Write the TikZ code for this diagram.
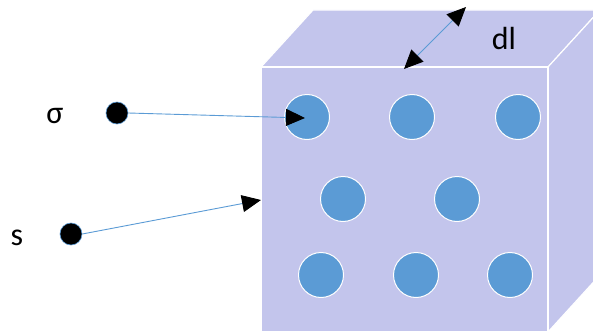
\documentclass[tikz,border=0pt]{standalone}
\usepackage{fontspec}
\setmainfont{Carlito}
\usetikzlibrary{arrows.meta}
\definecolor{face}{HTML}{C3C5EC}
\definecolor{ball}{HTML}{5B9BD5}
\begin{document}
\begin{tikzpicture}[x=1pt,y=-1pt,
  facestyle/.style={fill=face,draw=white,line width=1.2pt,line join=round},
  ballstyle/.style={circle,fill=ball,draw=white,line width=1pt,minimum size=45pt,inner sep=0pt},
  dotstyle/.style={circle,fill=black,draw=ball,line width=0.6pt,minimum size=22pt,inner sep=0pt},
  lbl/.style={font=\fontsize{32}{36}\selectfont,inner sep=0pt},
  conn/.style={draw=ball,line width=0.9pt,-{Triangle[length=19pt,width=17pt,color=black]}},
  dconn/.style={draw=ball,line width=0.9pt,{Triangle[length=19pt,width=17pt,color=black]}-{Triangle[length=19pt,width=17pt,color=black]}}]
\useasboundingbox (0,0) rectangle (593,334);
% cube
\path[facestyle] (261,67) -- (313,10) -- (600,10) -- (548,67) -- cycle;
\path[facestyle] (548,67) -- (600,10) -- (600,275) -- (548,332) -- cycle;
\path[facestyle] (261,67) rectangle (548,332);
% balls
\node[ballstyle] (b1) at (307,117) {};
\node[ballstyle] (b2) at (412,117) {};
\node[ballstyle] (b3) at (518,117) {};
\node[ballstyle] (b4) at (343,199) {};
\node[ballstyle] (b5) at (457,199) {};
\node[ballstyle] (b6) at (321,275) {};
\node[ballstyle] (b7) at (416,275) {};
\node[ballstyle] (b8) at (510,275) {};
% dots and labels
\node[dotstyle] (ds) at (117,113) {};
\node[dotstyle] (dt) at (71,234) {};
\node[lbl] (ls) at (55,116) {σ};
\node[lbl] (lt) at (17,238) {s};
\node[lbl] (ldl) at (504,39) {dl};
\coordinate (ts) at (305,118);
\coordinate (tt) at (261,200);
\coordinate (d1) at (404,69);
\coordinate (d2) at (466,7);
\draw[conn] (ds.east) -- (ts);
\draw[conn] (dt.east) -- (tt);
\draw[dconn] (d1) -- (d2);
\end{tikzpicture}
\end{document}
